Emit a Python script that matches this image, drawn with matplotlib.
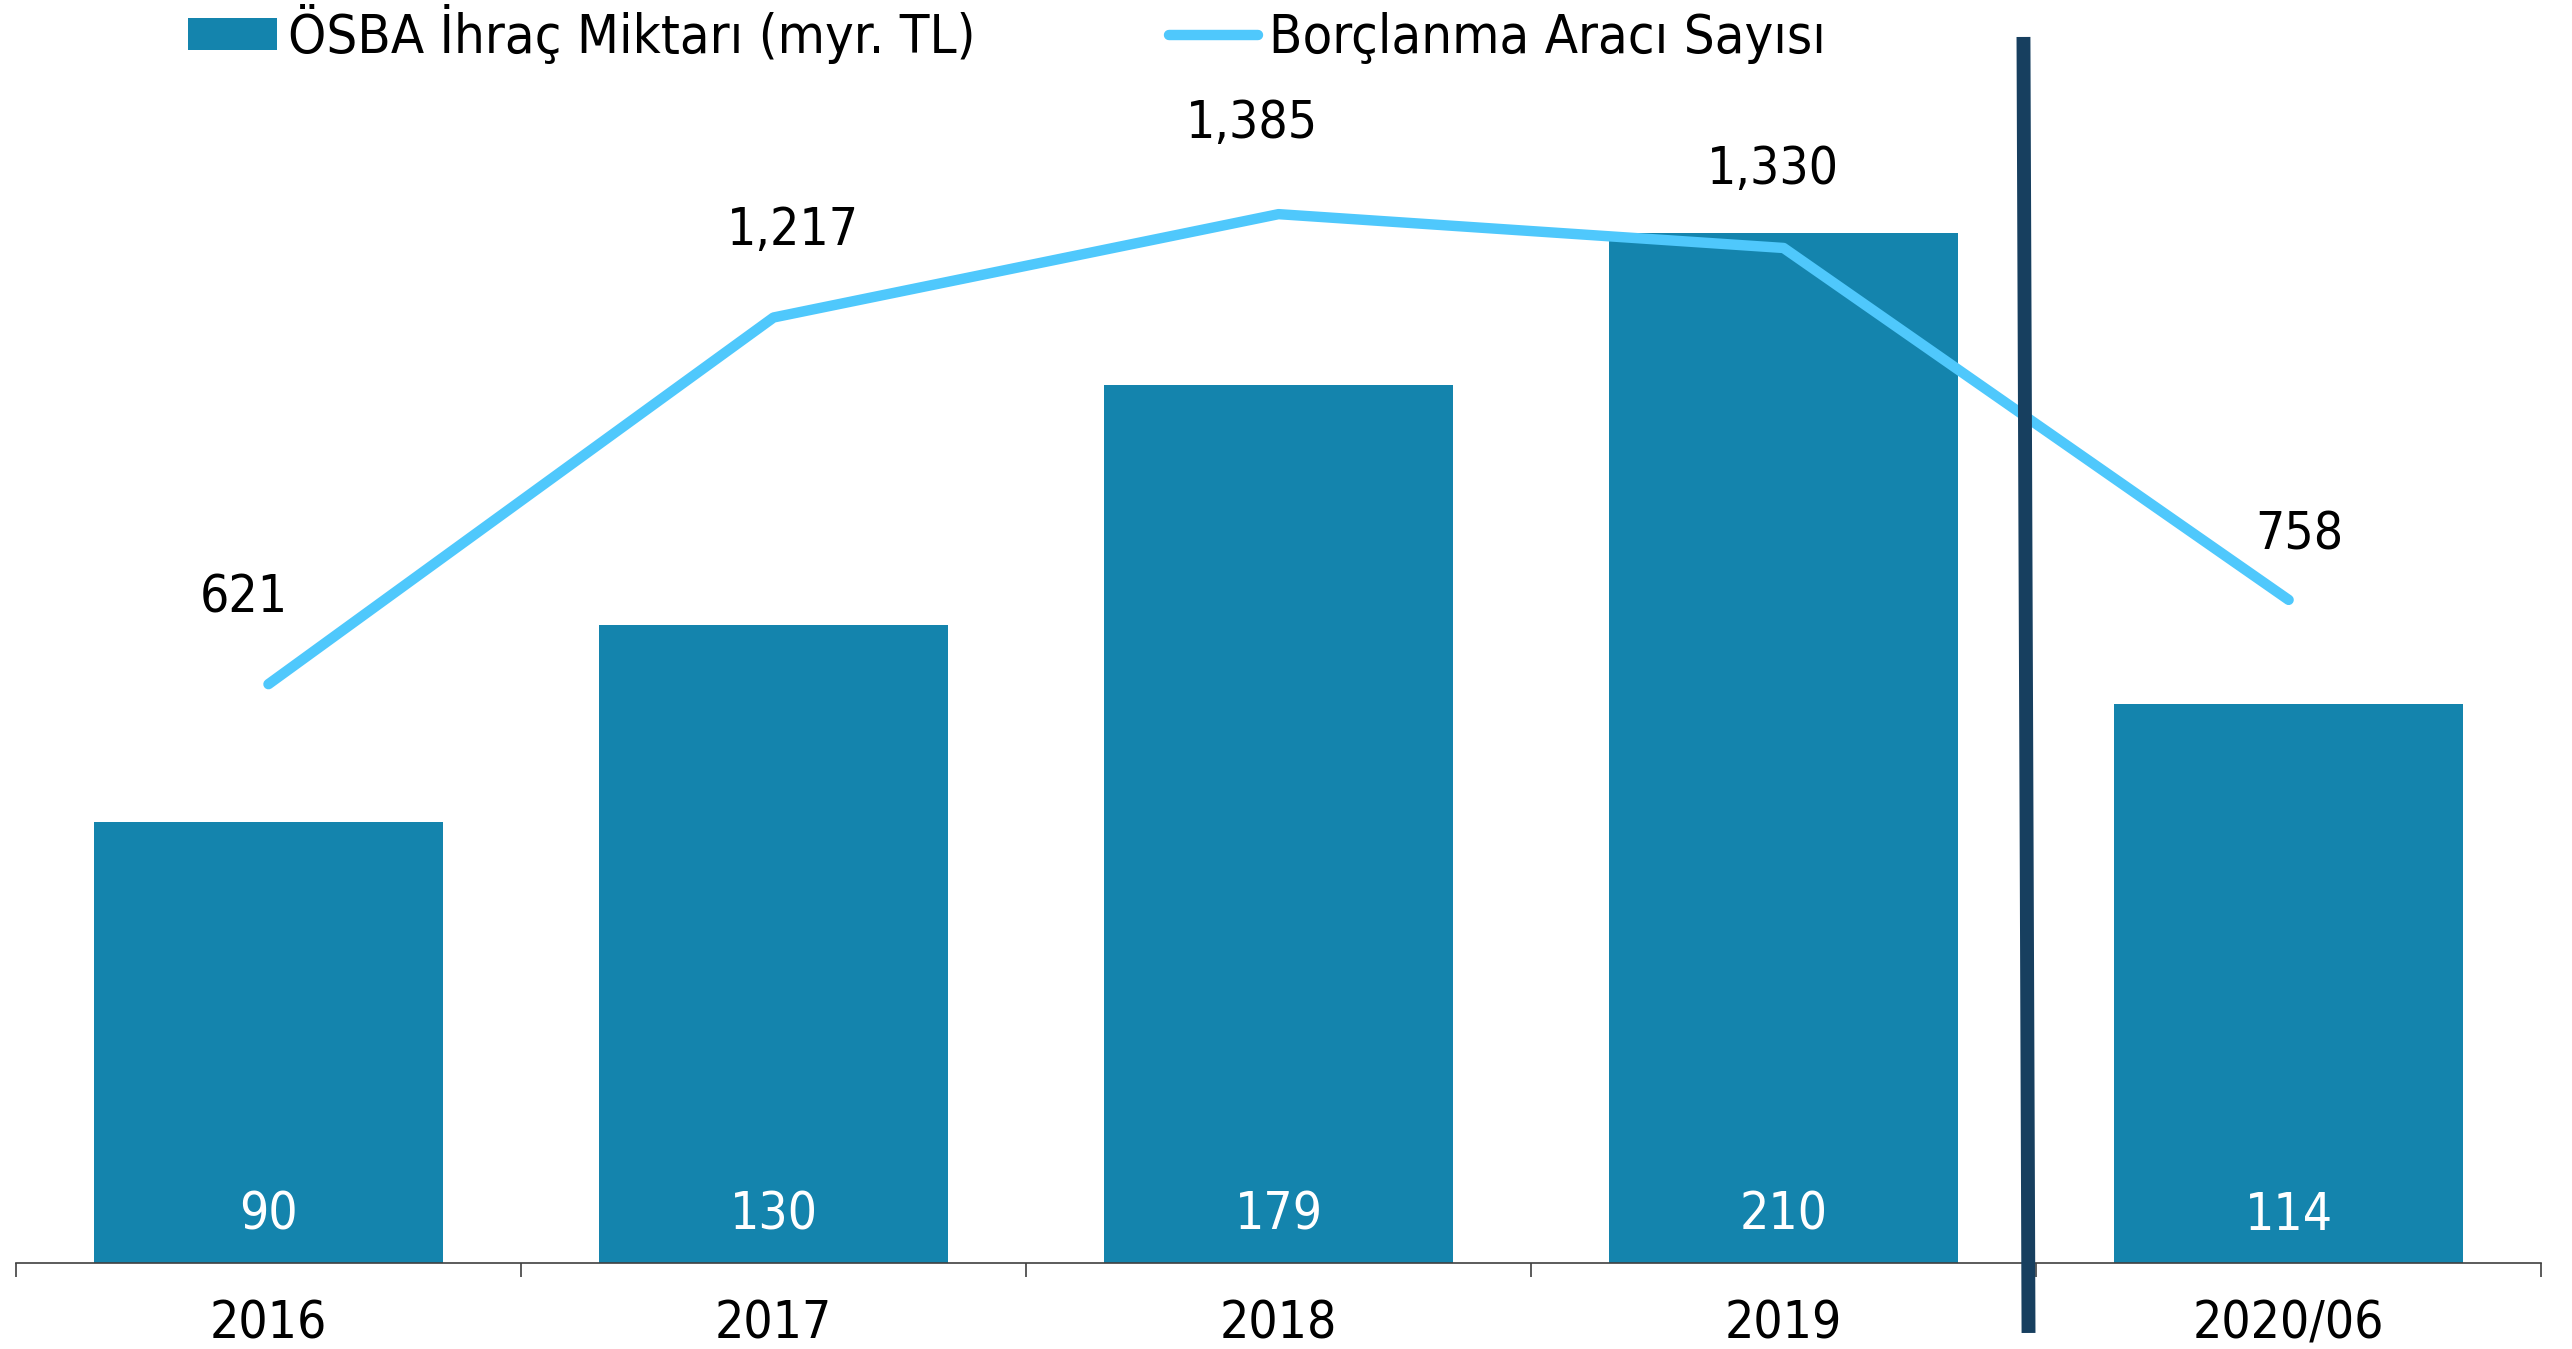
import numpy as np
import matplotlib.pyplot as plt
from matplotlib.patches import Patch
from matplotlib.lines import Line2D
from matplotlib import font_manager
import matplotlib.transforms as mtransforms

plt.rcParams['font.family'] = ['DejaVu Sans']
# the source chart uses a narrow face; take DejaVu Sans Condensed when it is there
_fp = font_manager.FontProperties(family='DejaVu Sans', stretch='condensed')
_path = font_manager.findfont(_fp, fallback_to_default=True)
if 'Condensed' in _path:
    plt.rcParams['font.stretch'] = 'condensed'
    fs = 37
    fs_leg = 39
else:
    fs = 34
    fs_leg = 35

# data
years = ['2016', '2017', '2018', '2019', '2020/06']
ihrac = [90, 130, 179, 210, 114]          # ÖSBA ihraç miktarı (myr. TL)
arac = [621, 1217, 1385, 1330, 758]       # borçlanma aracı sayısı
# label offsets (points) for the line values
lbl_off = [(-18, 62), (14, 62), (-19, 65), (-8, 56), (8, 46)]

bar_color = '#1484AD'
line_color = '#4FC8FC'
sep_color = '#173F5F'

fig = plt.figure(figsize=(25.72, 13.49), dpi=100)
ax = fig.add_axes([0.0062, 0.0637, 0.9818, 0.9089])
x = np.arange(len(years))

bars = ax.bar(x, ihrac, width=0.69, color=bar_color, zorder=2)
ax.set_ylim(0, 250)
ax.set_xlim(-0.5, len(years) - 0.5)

for xi, v in zip(x, ihrac):
    ax.annotate(str(v), (xi, 0), xytext=(0, 34), textcoords='offset points',
                ha='center', va='center', color='white', fontsize=fs, zorder=3)

ax2 = ax.twinx()
ax2.set_ylim(-320, 1673)
ln, = ax2.plot(x, arac, color=line_color, lw=7.5, solid_capstyle='round', zorder=3)
for xi, v, off in zip(x, arac, lbl_off):
    ax2.annotate(f'{v:,}', (xi, v), xytext=off, textcoords='offset points',
                 ha='center', va='center', color='black', fontsize=fs)

# vertical separator between 2019 and 2020/06
trans = mtransforms.blended_transform_factory(ax2.transData, ax2.transAxes)
ax2.plot([3.475, 3.485], [1.0, -0.057], color=sep_color, lw=10,
         transform=trans, clip_on=False, zorder=5, solid_capstyle='butt')

for a in (ax, ax2):
    for s in ('top', 'left', 'right'):
        a.spines[s].set_visible(False)
    a.set_yticks([])
ax2.spines['bottom'].set_visible(False)
ax.spines['bottom'].set_color('#404040')
ax.spines['bottom'].set_linewidth(1.2)

ax.set_xticks(np.arange(-0.5, len(years), 1.0))
ax.set_xticklabels([])
ax.tick_params(axis='x', which='major', length=10, width=1.2, color='#404040')
ax.set_xticks(x, minor=True)
ax.set_xticklabels(years, minor=True, fontsize=fs)
ax.tick_params(axis='x', which='minor', length=0, pad=26)

handles = [Patch(facecolor=bar_color, edgecolor='none'),
           Line2D([0], [0], color=line_color, lw=7.5, solid_capstyle='round')]
fig.legend(handles, ['ÖSBA İhraç Miktarı (myr. TL)', 'Borçlanma Aracı Sayısı'],
           loc='center left', bbox_to_anchor=(0.0625, 0.975), ncol=2, frameon=False,
           fontsize=fs_leg, handlelength=1.64, handleheight=0.53, handletextpad=0.21,
           columnspacing=3.57, borderpad=0)

fig.savefig('out.png', dpi=100)
